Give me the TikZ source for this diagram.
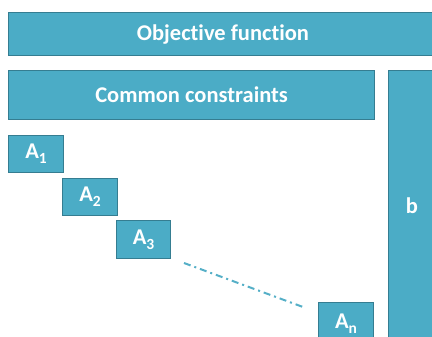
\documentclass[tikz,border=0pt]{standalone}
\usepackage{fontspec}
\setmainfont{Carlito}[Ligatures=NoCommon]
\definecolor{boxfill}{HTML}{4BACC6}
\definecolor{boxline}{HTML}{357D91}
\definecolor{dashcol}{HTML}{55AFC7}
\newcommand{\subx}[1]{\raisebox{-0.22em}{\fontsize{15.5}{16}\selectfont #1}}
\begin{document}
\begin{tikzpicture}[x=1pt,y=-1pt,
  blk/.style={draw=boxline, fill=boxfill, line width=1.2pt, text=white, inner sep=0pt},
  big/.style={font=\fontsize{22.5}{24}\selectfont\bfseries}]
\useasboundingbox (0,0) rectangle (432,337);
\clip (0,0) rectangle (432,337);
\node[blk,minimum width=430pt,minimum height=43pt,anchor=north west] (obj) at (8,12) {};
\node[text=white,big] (objt) at (223,35) {Objective function};
\node[blk,big,minimum width=366pt,minimum height=49pt,anchor=north west] (cc) at (8,70) {Common constraints};
\node[blk,minimum width=50pt,minimum height=280pt,anchor=north west] (b) at (388,70) {};
\node[text=white,big] (bt) at (412,206) {b};
\node[blk,big,minimum width=55pt,minimum height=37pt,anchor=north west] (a1) at (8,135) {A\subx{1}};
\node[blk,big,minimum width=55pt,minimum height=37pt,anchor=north west] (a2) at (62,178) {A\subx{2}};
\node[blk,big,minimum width=54pt,minimum height=38pt,anchor=north west] (a3) at (116,220) {A\subx{3}};
\node[blk,minimum width=55pt,minimum height=45pt,anchor=north west] (an) at (318,302) {};
\node[text=white,big] (ant) at (346,324) {A\subx{n}};
\coordinate (d1) at (184,263);
\coordinate (d2) at (303,307);
\draw[dashcol, line width=2pt, dash pattern=on 7pt off 4pt on 2pt off 4pt] (d1) -- (d2);
\end{tikzpicture}
\end{document}
